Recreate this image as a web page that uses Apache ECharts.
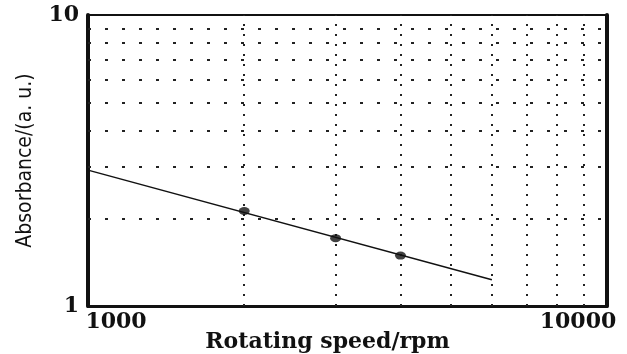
<!DOCTYPE html>
<html>
<head>
<meta charset="utf-8">
<script src="https://cdn.jsdelivr.net/npm/echarts@6/dist/echarts.min.js"></script>
<style>
  html, body { margin: 0; padding: 0; background: #fff; }
  #chart { width: 627px; height: 354px; }
</style>
</head>
<body>
<div id="chart"></div>
<script>
// measured points (rpm, absorbance)
const speeds = [2000, 3000, 4000];
const absorbance = [2.12, 1.71, 1.49];
// fitted line end points
const fitLine = [[1000, 2.93], [6000, 1.23]];
// log grid positions
const xGrid = [2000, 3000, 4000, 5000, 6000, 7000, 8000, 9000];
const yGrid = [2, 3, 4, 5, 6, 7, 8, 9];
const xTicks = [1000, 10000];
const yTicks = [1, 10];

const serif = '"DejaVu Serif", "Liberation Serif", serif';
const ink = '#111';

const vDot = { color: '#222', width: 2, type: [2, 8] };
const hDash = { color: '#222', width: 2, type: [3, 14] };

const gridMarks = [];
xGrid.forEach(v => gridMarks.push({ xAxis: v, lineStyle: vDot }));
yGrid.forEach(v => gridMarks.push({ yAxis: v, lineStyle: hDash }));

const tickFont = { color: ink, fontFamily: serif, fontWeight: 'bold', fontSize: 22 };

const chart = echarts.init(document.getElementById('chart'), null, { renderer: 'canvas' });

chart.setOption({
  animation: false,
  backgroundColor: '#fff',
  grid: { left: 88, right: 20, top: 15, bottom: 48, containLabel: false, outerBoundsMode: 'none' },
  xAxis: [
    {
      type: 'log', logBase: 10, min: xTicks[0], max: xTicks[1],
      name: 'Rotating speed/rpm', nameLocation: 'middle', nameGap: 25, nameMoveOverlap: false,
      nameTextStyle: { fontFamily: serif, fontWeight: 'bold', fontSize: 22, color: ink, padding: [0, 40, 0, 0] },
      axisLine: { show: true, lineStyle: { color: ink, width: 3 } },
      axisTick: { show: false },
      splitLine: { show: false },
      axisLabel: {
        margin: 5,
        formatter: v => {
          const r = Math.round(v);
          if (r === xTicks[0]) return '{lo|' + r + '}';
          if (r === xTicks[1]) return '{hi|' + r + '}';
          return '';
        },
        rich: {
          lo: Object.assign({ padding: [0, 0, 0, 56] }, tickFont),
          hi: Object.assign({ padding: [0, 58, 0, 0] }, tickFont)
        }
      }
    },
    {
      type: 'log', logBase: 10, min: xTicks[0], max: xTicks[1], position: 'top',
      axisLine: { show: true, lineStyle: { color: ink, width: 2 } },
      axisTick: { show: false }, axisLabel: { show: false }, splitLine: { show: false }
    }
  ],
  yAxis: [
    {
      type: 'log', logBase: 10, min: yTicks[0], max: yTicks[1],
      name: 'Absorbance/(a. u.)', nameLocation: 'middle', nameGap: 52, nameMoveOverlap: false,
      nameTextStyle: { fontFamily: '"DejaVu Sans Condensed", "Liberation Sans Narrow", sans-serif', fontSize: 21, color: ink },
      axisLine: { show: true, lineStyle: { color: ink, width: 4 } },
      axisTick: { show: false },
      splitLine: { show: false },
      axisLabel: Object.assign({ margin: 9, formatter: v => String(Math.round(v)) }, tickFont)
    },
    {
      type: 'log', logBase: 10, min: yTicks[0], max: yTicks[1], position: 'right',
      axisLine: { show: true, lineStyle: { color: ink, width: 4 } },
      axisTick: { show: false }, axisLabel: { show: false }, splitLine: { show: false }
    }
  ],
  series: [
    {
      type: 'line',
      data: fitLine,
      showSymbol: false,
      silent: true,
      z: 3,
      lineStyle: { color: ink, width: 1.5 },
      markLine: {
        silent: true,
        symbol: 'none',
        label: { show: false },
        z: 1,
        data: gridMarks
      }
    },
    {
      type: 'scatter',
      data: speeds.map((s, i) => [s, absorbance[i]]),
      symbol: 'circle',
      symbolSize: [11, 8],
      z: 4,
      itemStyle: { color: ink }
    }
  ]
});
</script>
</body>
</html>
